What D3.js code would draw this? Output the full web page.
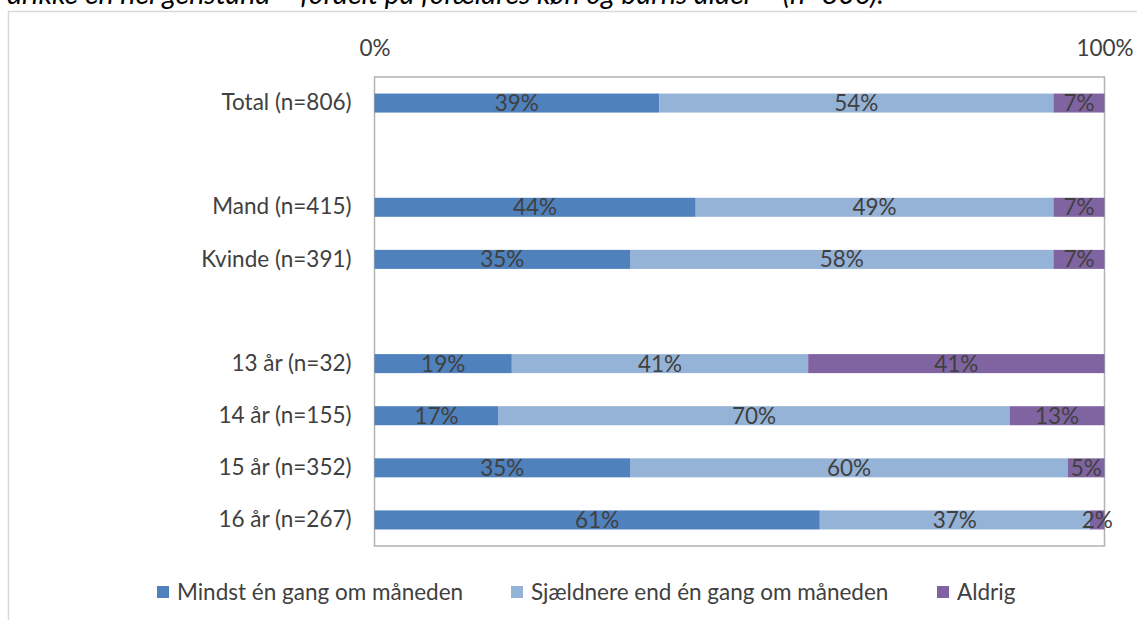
<!DOCTYPE html>
<html>
<head>
<meta charset="utf-8">
<script src="https://cdn.jsdelivr.net/npm/d3@7"></script>
<style>
  html, body { margin: 0; padding: 0; background: #fff; }
  svg { display: block; font-family: Lato, "Open Sans", sans-serif; }
</style>
</head>
<body>
<svg id="chart" width="1137" height="620"></svg>
<script>
// Row labels (empty strings are spacer rows between groups)
const categories = ["Total (n=806)", "", "Mand (n=415)", "Kvinde (n=391)", "", "13 år (n=32)", "14 år (n=155)", "15 år (n=352)", "16 år (n=267)"];
const seriesNames = ["Mindst én gang om måneden", "Sjældnere end én gang om måneden", "Aldrig"];
const mindst     = [39, null, 44, 35, null, 19, 17, 35, 61];
const sjaeldnere = [54, null, 49, 58, null, 41, 70, 60, 37];
const aldrig     = [7,  null, 7,  7,  null, 41, 13, 5,  2];
const tickLabels = ["0%", "100%"];
const colors = ["#4F81BD", "#95B3D7", "#8064A2"];

const title = "drikke en hel genstand – fordelt på forældres køn og barns alder – (n=806).";

const FS = 22.5;
const svg = d3.select("#chart");
const W = 1137, H = 620;

// Title line (continues from the line above the chart)
svg.append("text")
  .attr("x", 7).attr("y", 4)
  .attr("font-size", 28.5).attr("font-style", "italic")
  .attr("fill", "#000")
  .text(title);

// Chart frame
svg.append("rect")
  .attr("x", 8.5).attr("y", 11.5)
  .attr("width", W + 10).attr("height", H)
  .attr("fill", "#fff").attr("stroke", "#d9d9d9").attr("stroke-width", 1.5);

const plot = { left: 374.5, right: 1104.5, top: 77, bottom: 546 };

const rows = categories.map((c, i) => ({
  key: i, label: c,
  v: [mindst[i], sjaeldnere[i], aldrig[i]]
}));

const y = d3.scaleBand()
  .domain(rows.map(r => r.key))
  .range([plot.top, plot.bottom])
  .paddingInner(0.635).paddingOuter(0.3175);

const x = d3.scaleLinear().domain([0, 1]).range([plot.left, plot.right]);

// Stack as shares of each row's total
const data = rows.filter(r => r.v[0] !== null).map(r => ({
  key: r.key, s0: r.v[0], s1: r.v[1], s2: r.v[2]
}));
const stack = d3.stack().keys(["s0", "s1", "s2"]).offset(d3.stackOffsetExpand);
const layers = stack(data);

// Plot area border
svg.append("rect")
  .attr("x", plot.left).attr("y", plot.top)
  .attr("width", plot.right - plot.left).attr("height", plot.bottom - plot.top)
  .attr("fill", "none").attr("stroke", "#b3b3b3").attr("stroke-width", 1.5);

const g = svg.append("g");
layers.forEach((layer, li) => {
  g.selectAll(null).data(layer).enter().append("rect")
    .attr("x", d => x(d[0]))
    .attr("y", d => y(d.data.key))
    .attr("width", d => x(d[1]) - x(d[0]))
    .attr("height", y.bandwidth())
    .attr("fill", colors[li]);
});

// Value labels centred in each segment
layers.forEach((layer) => {
  g.selectAll(null).data(layer).enter().append("text")
    .attr("x", d => (x(d[0]) + x(d[1])) / 2)
    .attr("y", d => y(d.data.key) + y.bandwidth() / 2)
    .attr("dy", "0.36em")
    .attr("text-anchor", "middle")
    .attr("font-size", FS).attr("fill", "#404040")
    .text(d => d.data[layer.key] + "%");
});

// Category axis on the left
const yAxis = d3.axisLeft(y).tickSize(0).tickPadding(23)
  .tickFormat(k => categories[k]);
svg.append("g")
  .attr("transform", `translate(${plot.left},0)`)
  .call(yAxis)
  .call(a => a.select(".domain").remove())
  .call(a => a.selectAll("text").attr("font-size", FS).attr("fill", "#404040")
    .attr("font-family", "Lato, 'Open Sans', sans-serif"));

// Percentage axis on top
const xAxis = d3.axisTop(x).tickValues([0, 1]).tickSize(0).tickPadding(21)
  .tickFormat((d, i) => tickLabels[i]);
svg.append("g")
  .attr("transform", `translate(0,${plot.top})`)
  .call(xAxis)
  .call(a => a.select(".domain").remove())
  .call(a => a.selectAll("text").attr("font-size", FS).attr("fill", "#404040")
    .attr("font-family", "Lato, 'Open Sans', sans-serif"));

// Legend
const legendX = [157, 511, 937];
const legend = svg.append("g");
seriesNames.forEach((name, i) => {
  const lg = legend.append("g").attr("transform", `translate(${legendX[i]},592)`);
  lg.append("rect").attr("x", 0).attr("y", -6).attr("width", 12).attr("height", 12).attr("fill", colors[i]);
  lg.append("text").attr("x", 20).attr("y", 0).attr("dy", "0.36em")
    .attr("font-size", FS).attr("fill", "#404040").text(name);
});
</script>
</body>
</html>
